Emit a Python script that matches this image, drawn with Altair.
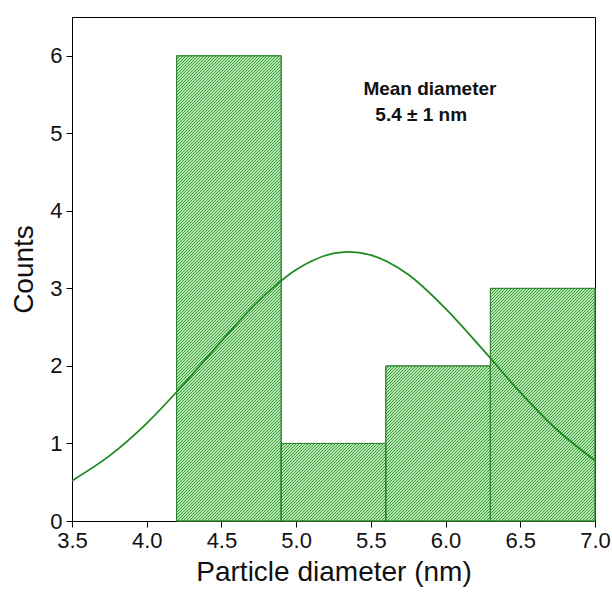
import altair as alt
import pandas as pd
import numpy as np

# ---- data ----
bin_left = [4.2, 4.9, 5.6, 6.3]
bin_right = [4.9, 5.6, 6.3, 7.0]
counts = [6, 1, 2, 3]

fit_x = [3.5, 3.75, 4.0, 4.25, 4.5, 4.75, 5.0, 5.25, 5.35, 5.5, 5.75, 6.0, 6.25, 6.5, 6.75, 7.0]
fit_y = [0.52, 0.84, 1.26, 1.77, 2.32, 2.84, 3.24, 3.45, 3.47, 3.43, 3.18, 2.74, 2.21, 1.66, 1.17, 0.78]

note_text = ["Mean diameter", "5.4 \u00b1 1 nm"]
note_x = [5.45, 5.53]
note_y = [5.57, 5.24]

x_ticks = [3.5 + 0.25 * i for i in range(15)]
y_ticks = [0.5 * i for i in range(14)]

# ---- layout ----
W, H = 523, 504
XMIN, XMAX, YMIN, YMAX = 3.5, 7.0, 0.0, 6.5
kx = W / (XMAX - XMIN)
ky = H / (YMAX - YMIN)

bars = pd.DataFrame({"x0": bin_left, "x1": bin_right, "count": counts})
fit = pd.DataFrame({"x": fit_x, "y": fit_y})
notes = pd.DataFrame({"text": note_text, "x": note_x, "y": note_y})

# hatch lines ("///") derived from the bars
period = 3.0
segs = []
for x0, x1, h in zip(bin_left, bin_right, counts):
    X0, X1, HH = (x0 - XMIN) * kx, (x1 - XMIN) * kx, h * ky
    kmin = int(np.floor((-X1) / period)) - 1
    kmax = int(np.ceil((HH - X0) / period)) + 1
    for k in range(kmin, kmax + 1):
        c = k * period
        xa = max(X0, -c)
        xb = min(X1, HH - c)
        if xb - xa > 0.3:
            segs.append({
                "hx": XMIN + xa / kx, "hy": (xa + c) / ky,
                "hx2": XMIN + xb / kx, "hy2": (xb + c) / ky,
            })
hatch = pd.DataFrame(segs)

xscale = alt.Scale(domain=[XMIN, XMAX], nice=False, zero=False)
yscale = alt.Scale(domain=[YMIN, YMAX], nice=False)

xaxis = alt.Axis(
    values=x_ticks, title="Particle diameter (nm)",
    labelExpr="(round(datum.value*100) % 50 == 0) ? format(datum.value, '.1f') : ''",
    tickSize={"condition": {"test": "round(datum.value*100) % 50 == 0", "value": 6}, "value": 3},
    labelOverlap=False, grid=False, labelFontSize=22, titleFontSize=28,
    labelFont="Liberation Sans", titleFont="Liberation Sans",
    labelColor="#111", titleColor="#111", titleFontWeight="normal",
    domainColor="black", tickColor="black", labelPadding=3, titlePadding=7,
    labelFlush=False,
)
yaxis = alt.Axis(
    values=y_ticks, title="Counts",
    labelExpr="(round(datum.value*10) % 10 == 0) ? format(datum.value, 'd') : ''",
    tickSize={"condition": {"test": "round(datum.value*10) % 10 == 0", "value": 6}, "value": 3},
    labelOverlap=False, grid=False, labelFontSize=22, titleFontSize=28,
    labelFont="Liberation Sans", titleFont="Liberation Sans",
    labelColor="#111", titleColor="#111", titleFontWeight="normal",
    domainColor="black", tickColor="black", labelPadding=4, titlePadding=11,
    labelFlush=False,
)

bar_layer = alt.Chart(bars).mark_rect(
    fill="#b6e9b0", stroke="#3b8f3b", strokeWidth=1
).encode(
    x=alt.X("x0:Q", scale=xscale, axis=xaxis),
    x2="x1:Q",
    y=alt.Y("count:Q", scale=yscale, axis=yaxis),
    y2=alt.datum(0),
)

hatch_layer = alt.Chart(hatch).mark_rule(
    color="#3d9a43", strokeWidth=1.0
).encode(
    x=alt.X("hx:Q", scale=xscale),
    y=alt.Y("hy:Q", scale=yscale),
    x2="hx2:Q",
    y2="hy2:Q",
)

outline_layer = alt.Chart(bars).mark_rect(
    fill=None, stroke="#2f852f", strokeWidth=1
).encode(
    x=alt.X("x0:Q", scale=xscale),
    x2="x1:Q",
    y=alt.Y("count:Q", scale=yscale),
    y2=alt.datum(0),
)

fit_layer = alt.Chart(fit).mark_line(
    color="#1f8a1f", strokeWidth=1.8, interpolate="monotone"
).encode(
    x=alt.X("x:Q", scale=xscale),
    y=alt.Y("y:Q", scale=yscale),
)

note_layer = alt.Chart(notes).mark_text(
    align="left", baseline="middle", font="Liberation Sans",
    fontSize=19, fontWeight="bold", color="#111"
).encode(
    x=alt.X("x:Q", scale=xscale),
    y=alt.Y("y:Q", scale=yscale),
    text="text:N",
)

chart = alt.layer(bar_layer, hatch_layer, outline_layer, fit_layer, note_layer).properties(
    width=W, height=H,
    autosize=alt.AutoSizeParams(type="none"),
    padding={"left": 72, "top": 17, "right": 17, "bottom": 76},
    background="white",
).configure_view(stroke="black", strokeWidth=1)

chart.save("out.html", embed_options={"renderer": "svg", "actions": False})
